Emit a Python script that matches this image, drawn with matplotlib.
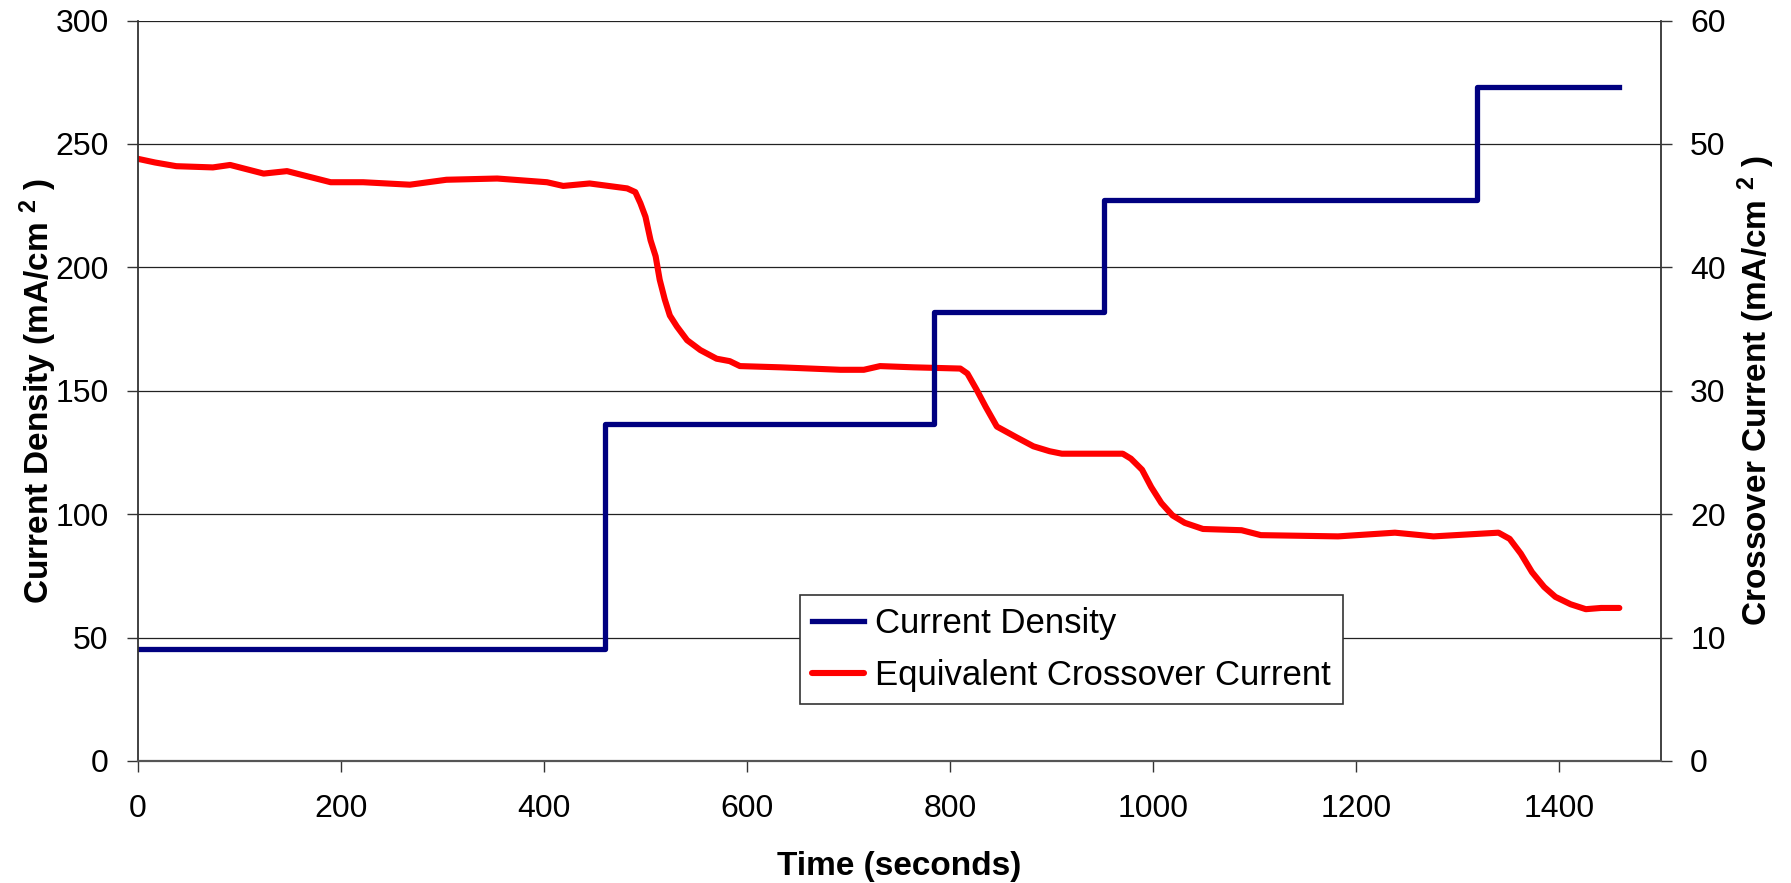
import matplotlib
matplotlib.use("Agg")
import matplotlib.pyplot as plt

plt.rcParams["font.family"] = ["Liberation Sans", "DejaVu Sans"]
plt.rcParams["mathtext.default"] = "regular"

# step profile of the applied current density (mA/cm2)
density_time = [0, 460, 784, 952, 1319, 1459]
density_value = [45.5, 136.5, 182.0, 227.5, 273.0, 273.0]

# equivalent crossover current (mA/cm2, right axis)
crossover_time = [
    0, 17, 38, 74, 91, 124, 147, 190, 222, 268, 304, 354, 403, 419, 445,
    482, 490, 495, 500, 505, 510, 514, 519, 524, 531, 541, 554, 570, 583,
    593, 633, 692, 715, 731, 764, 810, 817, 826, 835, 846, 866, 882, 898,
    910, 970, 978, 989, 998, 1008, 1019, 1031, 1049, 1087, 1106, 1182,
    1238, 1276, 1340, 1351, 1362, 1373, 1385, 1396, 1411, 1426, 1441, 1459,
]
crossover_value = [
    48.8, 48.5, 48.2, 48.1, 48.3, 47.6, 47.8, 46.9, 46.9, 46.7, 47.1, 47.2,
    46.9, 46.6, 46.8, 46.4, 46.1, 45.2, 44.1, 42.2, 40.9, 39.0, 37.4, 36.1,
    35.2, 34.1, 33.3, 32.6, 32.4, 32.0, 31.9, 31.7, 31.7, 32.0, 31.9, 31.8,
    31.4, 30.1, 28.7, 27.1, 26.2, 25.5, 25.1, 24.9, 24.9, 24.5, 23.6, 22.2,
    20.9, 19.9, 19.3, 18.8, 18.7, 18.3, 18.2, 18.5, 18.2, 18.5, 18.0, 16.8,
    15.3, 14.1, 13.3, 12.7, 12.3, 12.4, 12.4,
]

x_ticks = [0, 200, 400, 600, 800, 1000, 1200, 1400]
left_ticks = [0, 50, 100, 150, 200, 250, 300]
right_ticks = [0, 10, 20, 30, 40, 50, 60]

fig = plt.figure(figsize=(17.91, 8.83), dpi=100)
fig.subplots_adjust(left=0.0769, right=0.9274, bottom=0.1382, top=0.9767)

ax1 = fig.add_subplot(111)
ax2 = ax1.twinx()

# blue on top of red, grid kept underneath both
ax1.set_zorder(ax2.get_zorder() + 1)
ax1.patch.set_visible(False)

l2, = ax2.plot(crossover_time, crossover_value, color="#ff0000", lw=4.4,
               solid_joinstyle="round", solid_capstyle="round",
               label="Equivalent Crossover Current")
l1, = ax1.plot(density_time, density_value, color="#000080", lw=3.8,
               drawstyle="steps-post", label="Current Density")

ax1.set_xlim(0, 1500)
ax1.set_ylim(0, 300)
ax2.set_ylim(0, 60)
ax1.set_xticks(x_ticks)
ax1.set_yticks(left_ticks)
ax2.set_yticks(right_ticks)

ax2.grid(axis="y", color="#222222", lw=0.9)
ax2.set_axisbelow(True)

for s in ["top", "right"]:
    ax1.spines[s].set_visible(False)
for s in ["top", "left", "bottom"]:
    ax2.spines[s].set_visible(False)
ax1.spines["left"].set_color("#333333")
ax1.spines["left"].set_linewidth(1.3)
ax1.spines["bottom"].set_color("#555555")
ax1.spines["bottom"].set_linewidth(1.6)
ax2.spines["right"].set_color("#333333")
ax2.spines["right"].set_linewidth(1.3)

ax1.tick_params(axis="y", direction="out", length=8, width=1, color="#333333",
                labelsize=23, pad=13)
ax1.tick_params(axis="x", direction="out", length=8, width=1, color="#333333",
                labelsize=23, pad=16)
ax2.tick_params(axis="y", direction="out", length=8, width=1, color="#333333",
                labelsize=23, pad=13)

ax1.set_xlabel("Time (seconds)", fontsize=24, fontweight="bold", labelpad=19)
ax1.set_ylabel("Current Density (mA/cm $^{2}$ )", fontsize=24,
               fontweight="bold", labelpad=-3)
ax2.set_ylabel("Crossover Current (mA/cm $^{2}$ )", fontsize=24,
               fontweight="bold", labelpad=7)

leg = ax1.legend(handles=[l1, l2], loc="upper left",
                 bbox_to_anchor=(800 / 1791, 1 - 595 / 883),
                 bbox_transform=fig.transFigure, borderaxespad=0,
                 fontsize=25, frameon=True, fancybox=False, framealpha=1,
                 edgecolor="#333333", handlelength=1.5, handletextpad=0.3,
                 borderpad=0.35, labelspacing=0.55)
leg.get_frame().set_linewidth(1.2)

plt.savefig("out.png", dpi=100)
plt.close()
